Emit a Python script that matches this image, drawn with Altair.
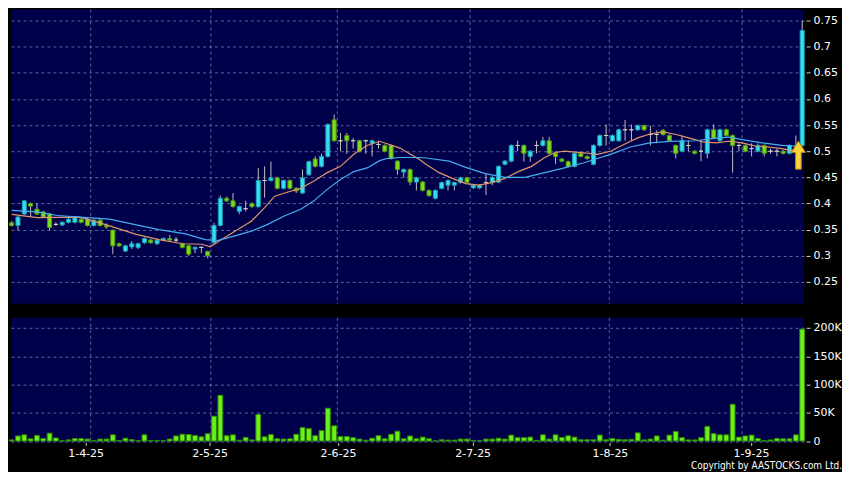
import altair as alt
import pandas as pd

# ---- data (one candle per trading day, 13 Mar - 12 Sep 2025) ----
opens = [0.363,0.358,0.380,0.400,0.389,0.384,0.380,0.360,0.359,0.364,
         0.364,0.370,0.370,0.358,0.368,0.358,0.349,0.323,0.309,0.317,
         0.316,0.325,0.330,0.323,0.330,0.333,0.330,0.323,0.319,0.313,
         0.316,0.308,0.325,0.358,0.410,0.405,0.385,0.390,0.400,0.394,
         0.444,0.444,0.449,0.429,0.444,0.429,0.420,0.455,0.485,0.471,
         0.490,0.560,0.520,0.530,0.520,0.520,0.520,0.515,0.513,0.511,
         0.511,0.481,0.460,0.465,0.441,0.441,0.425,0.410,0.429,0.435,
         0.435,0.440,0.449,0.430,0.430,0.440,0.440,0.441,0.475,0.481,
         0.511,0.511,0.490,0.511,0.511,0.520,0.496,0.485,0.480,0.471,
         0.496,0.490,0.475,0.511,0.530,0.520,0.520,0.541,0.541,0.541,
         0.549,0.532,0.532,0.540,0.530,0.511,0.500,0.511,0.500,0.500,
         0.496,0.541,0.520,0.541,0.530,0.511,0.511,0.505,0.500,0.511,
         0.500,0.500,0.500,0.496,0.508,0.511]
closes = [0.358,0.374,0.405,0.395,0.380,0.374,0.354,0.360,0.364,0.370,
          0.374,0.364,0.358,0.368,0.358,0.355,0.319,0.319,0.319,0.323,
          0.323,0.333,0.325,0.330,0.333,0.330,0.330,0.316,0.303,0.316,
          0.316,0.300,0.358,0.410,0.405,0.394,0.394,0.390,0.394,0.444,
          0.444,0.449,0.429,0.444,0.429,0.424,0.449,0.480,0.471,0.490,
          0.551,0.520,0.520,0.520,0.520,0.500,0.520,0.520,0.513,0.500,
          0.486,0.465,0.465,0.441,0.449,0.425,0.415,0.425,0.440,0.444,
          0.440,0.449,0.440,0.435,0.435,0.440,0.450,0.471,0.481,0.511,
          0.511,0.496,0.500,0.511,0.520,0.496,0.490,0.481,0.471,0.496,
          0.490,0.486,0.511,0.530,0.530,0.530,0.541,0.541,0.541,0.549,
          0.541,0.532,0.532,0.532,0.520,0.496,0.520,0.511,0.496,0.500,
          0.541,0.525,0.541,0.530,0.511,0.511,0.500,0.505,0.511,0.496,
          0.500,0.500,0.496,0.511,0.508,0.731]
highs = [0.366,0.376,0.407,0.402,0.400,0.386,0.382,0.364,0.366,0.372,
         0.376,0.372,0.372,0.370,0.370,0.362,0.350,0.325,0.321,0.328,
         0.325,0.335,0.332,0.333,0.335,0.340,0.336,0.325,0.321,0.318,
         0.318,0.310,0.363,0.415,0.413,0.420,0.396,0.405,0.402,0.468,
         0.471,0.480,0.451,0.446,0.446,0.431,0.465,0.482,0.490,0.495,
         0.553,0.570,0.535,0.535,0.525,0.522,0.522,0.522,0.520,0.513,
         0.513,0.483,0.467,0.467,0.451,0.443,0.427,0.427,0.442,0.446,
         0.442,0.451,0.451,0.437,0.437,0.457,0.452,0.473,0.483,0.513,
         0.520,0.513,0.502,0.520,0.527,0.527,0.500,0.487,0.482,0.498,
         0.498,0.492,0.513,0.532,0.551,0.532,0.543,0.560,0.551,0.551,
         0.551,0.549,0.540,0.542,0.532,0.513,0.530,0.520,0.502,0.520,
         0.543,0.551,0.543,0.543,0.532,0.515,0.513,0.515,0.515,0.513,
         0.505,0.505,0.502,0.513,0.530,0.750]
lows = [0.356,0.349,0.378,0.374,0.378,0.372,0.349,0.357,0.357,0.362,
        0.362,0.362,0.356,0.356,0.356,0.352,0.303,0.317,0.307,0.313,
        0.313,0.323,0.323,0.321,0.328,0.328,0.325,0.314,0.300,0.305,
        0.305,0.295,0.323,0.356,0.403,0.392,0.380,0.385,0.392,0.392,
        0.411,0.442,0.427,0.427,0.427,0.420,0.418,0.453,0.469,0.469,
        0.488,0.518,0.500,0.495,0.505,0.498,0.495,0.490,0.505,0.498,
        0.484,0.455,0.450,0.435,0.425,0.423,0.413,0.408,0.427,0.425,
        0.425,0.438,0.438,0.428,0.428,0.416,0.435,0.439,0.473,0.479,
        0.500,0.480,0.480,0.496,0.509,0.494,0.476,0.479,0.469,0.469,
        0.488,0.484,0.473,0.509,0.511,0.518,0.518,0.520,0.520,0.539,
        0.539,0.511,0.515,0.530,0.518,0.486,0.498,0.500,0.494,0.481,
        0.486,0.523,0.518,0.528,0.459,0.500,0.498,0.490,0.498,0.490,
        0.495,0.490,0.494,0.494,0.500,0.509]
volumes = [2000,9000,11000,4000,10000,4500,14000,5500,500,2000,
           4500,4500,3500,500,3500,3500,11000,1000,5000,2500,
           500,11000,1000,1000,1000,3500,9000,12000,11500,10000,
           7500,13000,44000,81000,9500,11000,1500,6500,2000,47000,
           7500,11500,4000,3500,4000,12000,24000,22000,9500,18500,
           58000,27000,8000,8000,6000,3500,1500,5000,9500,4000,
           12000,17500,4000,9000,4000,7000,4000,500,2300,1700,
           1700,3500,3500,1200,500,3500,3500,5000,3500,10500,
           6000,6000,7000,1200,11000,3500,11000,6400,9300,7000,
           2300,2300,2300,10500,2300,4600,3000,2300,3000,14500,
           2000,3500,9000,1500,10500,17000,6000,2000,2000,6000,
           26000,13000,11000,11000,65000,7000,9000,10500,4600,600,
           2000,4600,4000,4000,11000,198000]

# moving averages (day index, price)
ma_short_n = [0,4.1,10.8,15,19.7,23.3,27,30.1,31.4,33.2,35.3,37.9,40,41.6,43.7,45.7,47.8,
              49.9,52,54.1,56.2,58.2,61.4,64.5,65.5,67.6,69.7,71.8,73.9,75.9,78,80.1,82.2,
              84.3,85.8,87.4,90.5,92.6,94.7,96.8,98.9,100.9,103,105.1,107.2,109.3,111.4,
              113.4,115.5,117.6,119.7,121.8,123.3,125]
ma_short_v = [0.379,0.373,0.374,0.359,0.341,0.331,0.323,0.322,0.317,0.331,0.347,0.366,0.392,
              0.414,0.422,0.429,0.443,0.459,0.471,0.494,0.511,0.519,0.506,0.484,0.475,0.459,
              0.448,0.438,0.435,0.440,0.448,0.461,0.471,0.488,0.497,0.500,0.497,0.494,0.500,
              0.513,0.525,0.533,0.537,0.532,0.525,0.518,0.516,0.519,0.516,0.510,0.508,0.505,
              0.501,0.507]
ma_long_n = [0,4.1,7.2,11.9,15.5,19.7,23.3,27.5,30.6,32.5,35.3,37.9,40.5,43.1,45.7,47.8,49.9,
             52,54.1,56.2,58.2,59.3,61.4,64.5,65.5,69.2,71.8,74.9,78,81.2,84.3,87.4,90.5,92.6,
             94.7,97.8,100.9,104.1,108.2,111.4,113.4,115.5,118.7,121.8,123.9,125]
ma_long_v = [0.387,0.384,0.377,0.373,0.370,0.359,0.350,0.342,0.331,0.329,0.338,0.347,0.360,
             0.376,0.389,0.405,0.427,0.446,0.461,0.468,0.482,0.486,0.488,0.488,0.487,0.481,
             0.469,0.457,0.450,0.450,0.459,0.468,0.478,0.486,0.494,0.508,0.516,0.519,0.520,
             0.525,0.527,0.522,0.516,0.511,0.510,0.511]

month_grid = [12.5, 31.5, 51.5, 72.5, 94.5, 115.5]         # month boundaries (grid lines)
month_label_pos = [11.7, 31.3, 51.6, 72.9, 94.6, 116.9]    # where the date labels sit
month_labels = ["1-4-25", "2-5-25", "2-6-25", "2-7-25", "1-8-25", "1-9-25"]
price_ticks = [0.25, 0.3, 0.35, 0.4, 0.45, 0.5, 0.55, 0.6, 0.65, 0.7, 0.75]
price_labels = ["0.25", "0.3", "0.35", "0.4", "0.45", "0.5", "0.55", "0.6", "0.65", "0.7", "0.75"]
vol_ticks = [0, 50000, 100000, 150000, 200000]
vol_labels = ["0", "50K", "100K", "150K", "200K"]
arrow_n = [124.4]
arrow_price = [0.4924]
copyright = ["Copyright by AASTOCKS.com Ltd."]

# ---- build ----
df = pd.DataFrame({"n": list(range(len(opens))), "open": opens, "close": closes,
                   "high": highs, "low": lows, "vol": volumes})
ma_s = pd.DataFrame({"n": ma_short_n, "v": ma_short_v})
ma_l = pd.DataFrame({"n": ma_long_n, "v": ma_long_v})
grid_df = pd.DataFrame({"g": month_grid})


def expr_map(vals, labels):
    return " : ".join(f"datum.value == {v} ? '{l}'" for v, l in zip(vals, labels)) + " : ''"


W = 795
GRID_COLOR = "#7c86bb"
xscale = alt.Scale(domain=[-0.1, 125.3], nice=False, zero=False)
pscale = alt.Scale(domain=[0.2080, 0.7710], nice=False, zero=False)
vscale = alt.Scale(domain=[-2600, 218000], nice=False, zero=False)

grid_kw = dict(grid=True, gridColor=GRID_COLOR, gridDash=[3, 3], gridOpacity=0.75, gridWidth=1)
right_kw = dict(orient="right", domain=False, tickSize=4, tickColor="#cfcfcf", offset=2,
                labelPadding=3, labelOverlap=False, labelBound=False, labelFlush=False)

# one axis definition per channel, shared by every layer so nothing conflicts when merged
y_axis_price = alt.Axis(values=price_ticks, labelExpr=expr_map(price_ticks, price_labels),
                        **right_kw, **grid_kw)
x_axis_vol = alt.Axis(values=month_label_pos, labelExpr=expr_map(month_label_pos, month_labels),
                      domain=False, grid=False, tickSize=3, tickColor="#cfcfcf", labelPadding=2,
                      labelOverlap=False, labelFlush=False)
y_axis_vol = alt.Axis(values=vol_ticks, labelExpr=expr_map(vol_ticks, vol_labels), **right_kw, **grid_kw)

base = alt.Chart(df).transform_calculate(
    dir="datum.close > datum.open ? 'up' : (datum.close < datum.open ? 'down' : 'flat')",
    b0="datum.n - 0.32", b1="datum.n + 0.32",
    v0="datum.n - 0.38", v1="datum.n + 0.38",
)


def px(field):
    return alt.X(field, type="quantitative", scale=xscale, title=None, axis=None)


def py(field):
    return alt.Y(field, type="quantitative", scale=pscale, title=None, axis=y_axis_price)


def vx(field):
    return alt.X(field, type="quantitative", scale=xscale, title=None, axis=x_axis_vol)


def vy(field):
    return alt.Y(field, type="quantitative", scale=vscale, title=None, axis=y_axis_vol)


vgrid_price = alt.Chart(grid_df).mark_rule(
    color=GRID_COLOR, strokeDash=[3, 3], opacity=0.75, strokeWidth=1).encode(x=px("g"))

wicks = base.mark_rule(color="#bdbdbd", strokeWidth=1).encode(
    x=px("n"), y=py("low"), y2="high:Q")

bodies = base.mark_bar(strokeWidth=1).encode(
    x=px("b0"), x2="b1:Q",
    y=py("open"), y2="close:Q",
    fill=alt.Fill("dir:N", legend=None,
                  scale=alt.Scale(domain=["up", "down", "flat"], range=["#35def0", "#7edc1e", "#b8c8a0"])),
    stroke=alt.Stroke("dir:N", legend=None,
                      scale=alt.Scale(domain=["up", "down", "flat"], range=["#1a9fb4", "#4f9a10", "#c8d0b8"])),
)

line_s = alt.Chart(ma_s).mark_line(color="#e0946a", strokeWidth=1.2).encode(x=px("n"), y=py("v"))
line_l = alt.Chart(ma_l).mark_line(color="#45aef0", strokeWidth=1.2).encode(x=px("n"), y=py("v"))

arrow = alt.Chart(pd.DataFrame({"n": arrow_n, "p": arrow_price})).mark_point(
    shape="M0,-1L0.5,-0.2L0.2,-0.2L0.2,1L-0.2,1L-0.2,-0.2L-0.5,-0.2Z",
    size=784, filled=True, fill="#fcd43a", stroke="#c08a00", strokeWidth=1, opacity=1
).encode(x=px("n"), y=py("p"))

price = alt.layer(vgrid_price, wicks, bodies, line_s, line_l, arrow).properties(width=W, height=295)

vgrid_vol = alt.Chart(grid_df).mark_rule(
    color=GRID_COLOR, strokeDash=[3, 3], opacity=0.75, strokeWidth=1).encode(x=vx("g"))

vol_bars = base.mark_bar(fill="#6cf01a", stroke="#2f8a00", strokeWidth=1).encode(
    x=vx("v0"), x2="v1:Q",
    y=vy("vol"), y2=alt.Y2(datum=0),
)

copy_text = alt.Chart(pd.DataFrame({"t": copyright})).mark_text(
    align="right", baseline="alphabetic", color="#ffffff", fontSize=10,
    font="DejaVu Sans Condensed, Liberation Sans Narrow, DejaVu Sans"
).encode(x=alt.value(833), y=alt.value(152), text="t:N")

volume = alt.layer(vgrid_vol, vol_bars, copy_text).properties(width=W, height=125)

chart = alt.vconcat(price, volume, spacing=12).resolve_scale(x="shared").properties(
    background="#000000", padding={"left": 0, "top": 0, "right": 0, "bottom": 0}
).configure_view(fill="#00004a", strokeWidth=0).configure_axis(
    labelFont="DejaVu Sans", labelFontSize=11, labelColor="#ffffff"
)

chart.save("out.html", embed_options={"renderer": "svg", "actions": False})
